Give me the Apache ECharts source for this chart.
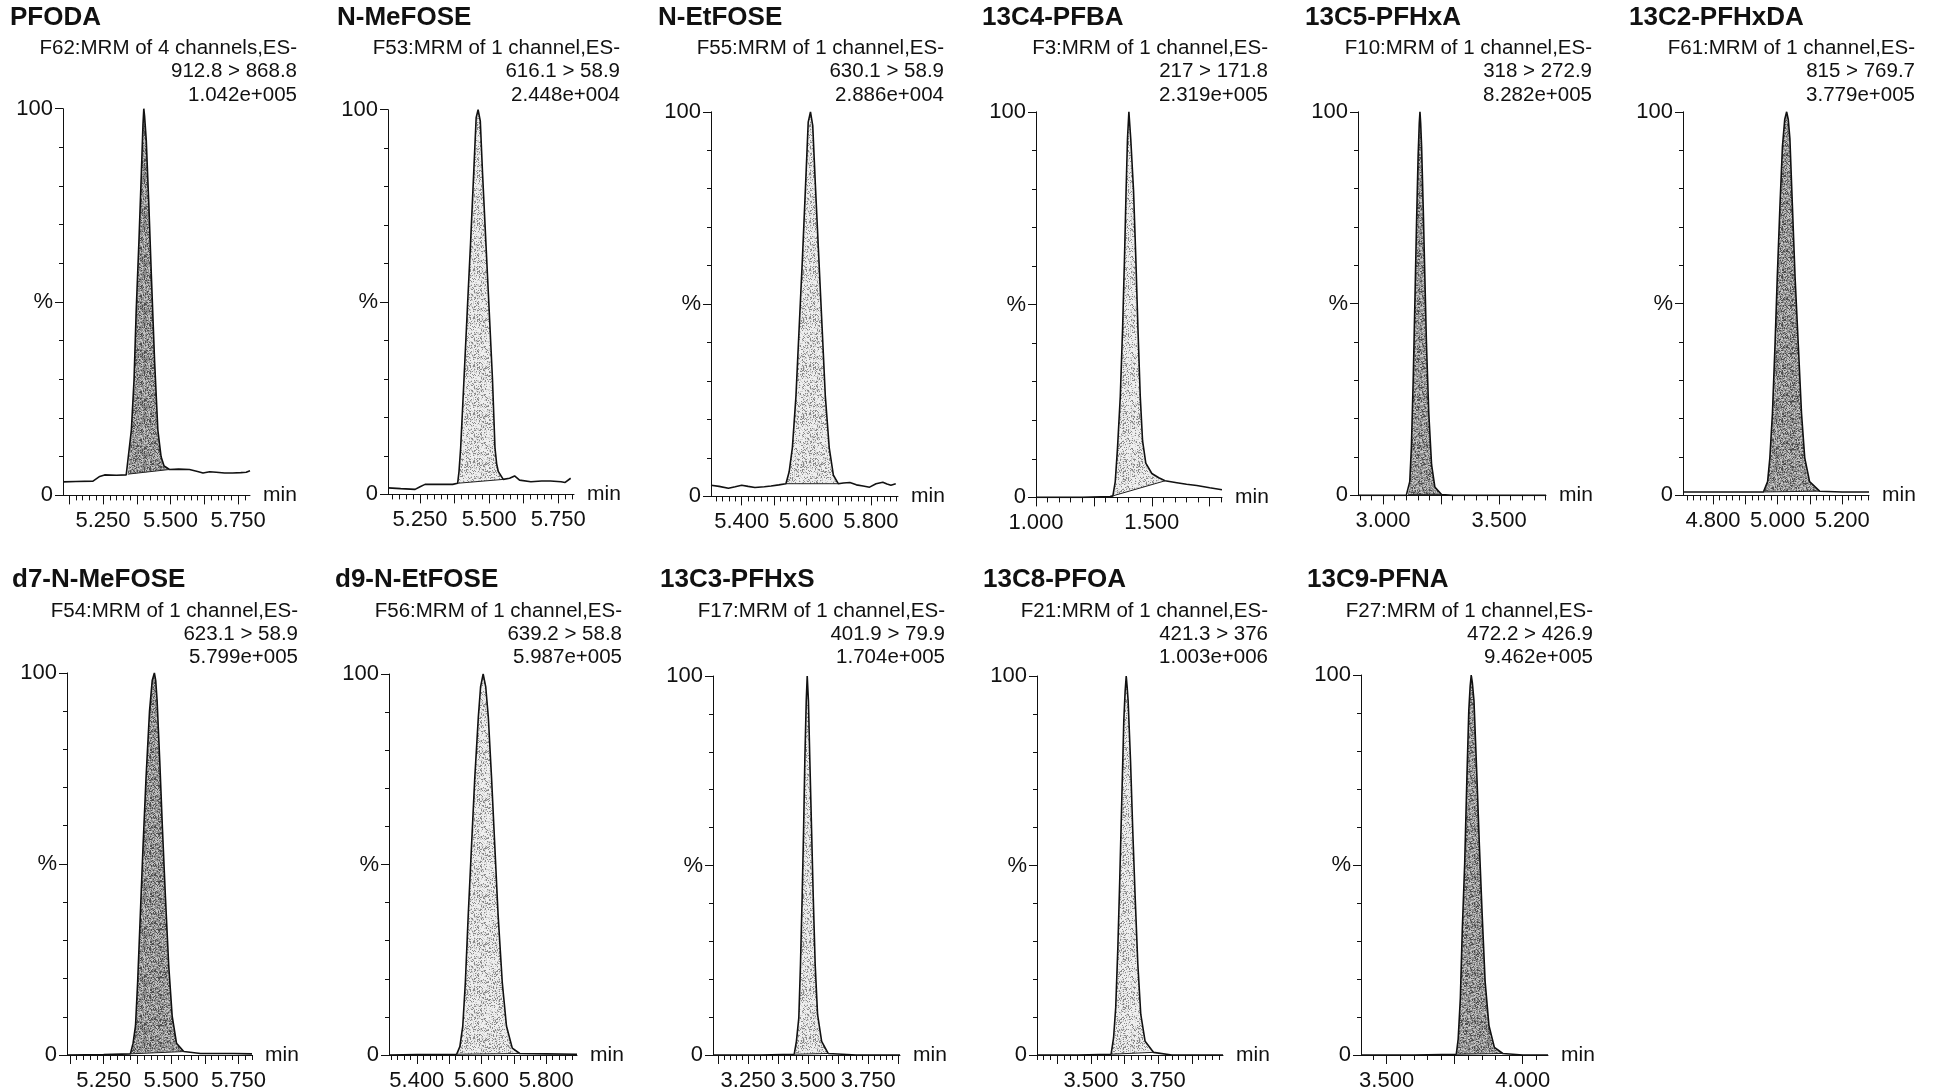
<!DOCTYPE html>
<html>
<head>
<meta charset="utf-8">
<script src="https://cdn.jsdelivr.net/npm/echarts@6/dist/echarts.min.js"></script>
<style>
html,body{margin:0;padding:0;background:#fff;}
#chart{width:1937px;height:1092px;}
</style>
</head>
<body>
<div id="chart"></div>
<script>
// ---------------- DATA ----------------
const compoundNames = ['PFODA','N-MeFOSE','N-EtFOSE','13C4-PFBA','13C5-PFHxA','13C2-PFHxDA',
  'd7-N-MeFOSE','d9-N-EtFOSE','13C3-PFHxS','13C8-PFOA','13C9-PFNA'];
const functionLines = ['F62:MRM of 4 channels,ES-','F53:MRM of 1 channel,ES-','F55:MRM of 1 channel,ES-',
  'F3:MRM of 1 channel,ES-','F10:MRM of 1 channel,ES-','F61:MRM of 1 channel,ES-',
  'F54:MRM of 1 channel,ES-','F56:MRM of 1 channel,ES-','F17:MRM of 1 channel,ES-',
  'F21:MRM of 1 channel,ES-','F27:MRM of 1 channel,ES-'];
const transitionLines = ['912.8 > 868.8','616.1 > 58.9','630.1 > 58.9','217 > 171.8','318 > 272.9','815 > 769.7',
  '623.1 > 58.9','639.2 > 58.8','401.9 > 79.9','421.3 > 376','472.2 > 426.9'];
const intensityLines = ['1.042e+005','2.448e+004','2.886e+004','2.319e+005','8.282e+005','3.779e+005',
  '5.799e+005','5.987e+005','1.704e+005','1.003e+006','9.462e+005'];

// x axis ranges (min)
const xMins = [5.102, 5.134, 5.305, 1.000, 2.892, 4.707, 5.114, 5.314, 3.104, 3.300, 3.406];
const xMaxs = [5.794, 5.807, 5.884, 1.803, 3.702, 5.283, 5.800, 5.895, 3.882, 3.990, 4.093];
// labelled ticks
const xTickLabels = [
  [5.25,5.5,5.75],[5.25,5.5,5.75],[5.4,5.6,5.8],[1.0,1.5],[3.0,3.5],[4.8,5.0,5.2],
  [5.25,5.5,5.75],[5.4,5.6,5.8],[3.25,3.5,3.75],[3.5,3.75],[3.5,4.0]
];
const xMajorStep = [0.125,0.125,0.1,0.25,0.25,0.1,0.125,0.1,0.125,0.125,0.25];
const xMinorStep = [0.025,0.025,0.02,0.05,0.05,0.02,0.025,0.02,0.025,0.025,0.05];
const yLabels = ['0','%','100'];

// chromatogram traces [time (min), relative intensity %]
const trace_PFODA = [[5.102,3.5],[5.150,3.6],[5.213,3.7],[5.238,4.9],[5.256,5.3],[5.300,5.2],[5.336,5.3],[5.342,5.5],[5.355,16.9],[5.365,30],[5.373,48],[5.383,65.7],[5.392,83.4],[5.398,96],[5.401,100],[5.404,98],[5.410,92],[5.420,74.5],[5.429,56.8],[5.441,34.6],[5.453,16.9],[5.465,10],[5.476,7.6],[5.496,6.7],[5.530,6.8],[5.570,6.7],[5.600,6.2],[5.620,5.8],[5.645,6.1],[5.669,6.0],[5.700,5.8],[5.730,5.8],[5.760,5.9],[5.780,6.0],[5.794,6.4]];
const trace_NMeFOSE = [[5.134,1.7],[5.180,1.5],[5.232,1.3],[5.250,2.0],[5.268,2.6],[5.320,2.6],[5.368,2.6],[5.386,2.9],[5.391,6],[5.397,12.2],[5.409,30],[5.421,48],[5.433,65.7],[5.445,85],[5.453,97.9],[5.460,100],[5.468,97],[5.476,83.6],[5.488,65.7],[5.500,48],[5.512,30],[5.521,12.2],[5.527,8],[5.533,6],[5.551,3.9],[5.574,4.2],[5.592,4.8],[5.610,3.7],[5.651,3.3],[5.690,3.5],[5.722,3.5],[5.760,3.3],[5.775,3.1],[5.795,4.2]];
const trace_NEtFOSE = [[5.305,2.9],[5.330,2.6],[5.359,2.1],[5.380,2.5],[5.400,2.9],[5.420,2.6],[5.441,2.3],[5.470,2.5],[5.491,2.7],[5.515,3.0],[5.537,3.3],[5.547,6.4],[5.557,12.7],[5.568,26],[5.578,43.9],[5.588,61.7],[5.598,81.3],[5.606,97.3],[5.613,100],[5.620,96.4],[5.628,81.3],[5.639,61.7],[5.649,43.9],[5.659,26],[5.671,12.7],[5.684,5.5],[5.699,3.3],[5.715,3.5],[5.735,3.6],[5.755,3.0],[5.776,2.7],[5.796,2.4],[5.816,3.3],[5.837,3.7],[5.850,3.2],[5.862,2.9],[5.877,3.3]];
const trace_13C4PFBA = [[1.000,0],[1.100,0],[1.200,0],[1.320,0.2],[1.332,0.4],[1.342,4],[1.352,12.9],[1.364,26.3],[1.374,44],[1.382,61.9],[1.389,79.7],[1.395,93],[1.401,100],[1.409,93],[1.421,79.7],[1.431,61.9],[1.440,44],[1.450,26.3],[1.460,14.7],[1.474,8.9],[1.500,6.2],[1.530,5.1],[1.557,4.3],[1.608,3.8],[1.650,3.4],[1.694,3.1],[1.750,2.5],[1.803,2.0]];
const trace_13C5PFHxA = [[2.892,0],[3.000,0],[3.100,0],[3.108,0.2],[3.115,3.6],[3.122,12.5],[3.130,30.4],[3.137,50],[3.144,70.5],[3.151,88.4],[3.156,97],[3.159,100],[3.162,97],[3.166,91],[3.173,75],[3.180,57],[3.187,39.3],[3.197,21.4],[3.209,8],[3.223,2.2],[3.252,0.2],[3.300,0],[3.500,0],[3.702,0]];
const trace_13C2PFHxDA = [[4.707,0.9],[4.800,0.9],[4.900,0.9],[4.956,0.9],[4.969,3.6],[4.976,9.8],[4.984,21.4],[4.992,39.3],[4.999,57],[5.007,75],[5.015,91],[5.022,98],[5.028,100],[5.033,98],[5.038,93],[5.046,75],[5.054,57],[5.064,39.3],[5.074,21.4],[5.084,9.8],[5.099,3.6],[5.130,1.1],[5.200,0.9],[5.283,0.9]];
const trace_d7NMeFOSE = [[5.114,0],[5.250,0.1],[5.349,0.3],[5.359,3.1],[5.368,7.6],[5.376,19.1],[5.386,36.9],[5.396,54.7],[5.407,72.4],[5.420,90],[5.430,98],[5.438,100],[5.443,98],[5.448,92.9],[5.458,76.9],[5.468,59.1],[5.479,41.3],[5.491,23.6],[5.504,10.2],[5.520,3.1],[5.547,0.9],[5.609,0.4],[5.733,0.4],[5.800,0.3]];
const trace_d9NEtFOSE = [[5.314,0],[5.400,0.1],[5.523,0.2],[5.533,2.2],[5.542,7.6],[5.550,19.1],[5.559,37],[5.569,54.8],[5.579,72.6],[5.590,88.6],[5.597,96.6],[5.605,100],[5.613,96.6],[5.621,88.6],[5.631,72.6],[5.641,54.8],[5.651,37],[5.664,19.1],[5.677,7.6],[5.695,1.8],[5.718,0.4],[5.800,0.3],[5.895,0.2]];
const trace_13C3PFHxS = [[3.104,0],[3.300,0],[3.442,0.2],[3.451,3.6],[3.461,9.8],[3.468,24],[3.475,41.9],[3.481,59.7],[3.486,77.5],[3.492,93.5],[3.496,100],[3.501,93.5],[3.507,77.5],[3.514,59.7],[3.521,41.9],[3.529,24],[3.539,10.7],[3.556,3.6],[3.583,0.4],[3.700,0],[3.882,0]];
const trace_13C8PFOA = [[3.300,0],[3.450,0],[3.575,0.2],[3.584,4.5],[3.592,12.5],[3.600,28.5],[3.607,46.3],[3.615,68.6],[3.622,88.2],[3.627,96],[3.631,100],[3.634,97.5],[3.638,93.5],[3.647,77.5],[3.655,59.7],[3.664,41.9],[3.674,24],[3.685,10.7],[3.701,3.6],[3.732,0.7],[3.800,0],[3.990,0]];
const trace_13C9PFNA = [[3.406,0],[3.600,0],[3.756,0.2],[3.763,4.2],[3.771,14.9],[3.778,32.7],[3.787,50.5],[3.795,72.8],[3.802,90.6],[3.807,97],[3.811,100],[3.815,98],[3.821,93.3],[3.832,72.8],[3.841,55],[3.851,37.2],[3.862,19.3],[3.876,7.8],[3.896,2],[3.927,0.4],[4.000,0],[4.093,0]];

// integration limits (start, end) in min
const peakLimits = [[5.342,5.496],[5.386,5.551],[5.537,5.699],[1.332,1.557],[3.108,3.252],[4.956,5.130],
  [5.349,5.547],[5.523,5.718],[3.442,3.583],[3.575,3.732],[3.756,3.927]];

const traces = [trace_PFODA, trace_NMeFOSE, trace_NEtFOSE, trace_13C4PFBA, trace_13C5PFHxA, trace_13C2PFHxDA,
  trace_d7NMeFOSE, trace_d9NEtFOSE, trace_13C3PFHxS, trace_13C8PFOA, trace_13C9PFNA];

// ---------------- LAYOUT / STYLE ----------------
// grid rectangles: [axisLeftX, axisRightX, y100, y0]
const gridBoxes = [
  [63,250,108.7,495.4],[388,574,109.7,494.4],[711,898,111.8,496.4],[1036,1222,111.8,497.4],[1358,1546,111.8,495.4],[1683,1869,111.8,495.4],
  [67,252,672.9,1062],[389,577,674,1062],[713,900,676,1064],[1037,1223,676,1064],[1361,1548,675,1063]
];
const titlePos = [[10,18],[337,18],[658,18],[982,18],[1305,18],[1629,18],[12,580],[335,580],[660,580],[983,580],[1307,580]];
const infoPos = [[297,48.5],[620,48.5],[944,48.5],[1268,48.5],[1592,48.5],[1915,48.5],[298,611],[622,611],[945,611],[1268,611],[1593,611]];
const darkFill = [true,false,false,false,true,true,true,false,false,false,true];

const FONT = '"Liberation Sans", Arial, Helvetica, sans-serif';
const INK = '#111';

function hash01(x, y, seed) {
  let h = Math.imul(x * 374761393 + y * 668265263 + seed * 2246822519, 1274126177);
  h ^= h >>> 13; h = Math.imul(h, 1103515245); h ^= h >>> 16;
  return (h >>> 0) / 4294967296;
}
function makePattern(base, dark, light, pDark, pLight, seed) {
  const c = document.createElement('canvas');
  c.width = 48; c.height = 48;
  const g = c.getContext('2d');
  g.fillStyle = base; g.fillRect(0, 0, 48, 48);
  for (let y = 0; y < 48; y++) for (let x = 0; x < 48; x++) {
    const h = hash01(x, y, seed);
    if (h < pDark) { g.fillStyle = dark; g.fillRect(x, y, 1, 1); }
    else if (h < pDark + pLight) { g.fillStyle = light; g.fillRect(x, y, 1, 1); }
  }
  return c;
}
const patDark = makePattern('#8c8c8c', '#4e4e4e', '#c2c2c2', 0.22, 0.28, 7);
const patLight = makePattern('#eeeeee', '#8a8a8a', '#cdcdcd', 0.18, 0.22, 3);

function stepValues(min, max, step) {
  const out = [];
  const k0 = Math.ceil(min / step - 1e-9);
  for (let k = k0; k * step <= max + 1e-9; k++) out.push(+(k * step).toFixed(4));
  return out;
}

const W = 1937, H = 1092;
const grids = [], xAxes = [], yAxes = [], series = [], graphics = [];

traces.forEach((tr, i) => {
  const [L, R, T, B] = gridBoxes[i];
  grids.push({ left: L, top: T, width: R - L, height: B - T, containLabel: false });
  const axisLine = { show: true, lineStyle: { color: INK, width: 1 } };
  xAxes.push({
    type: 'value', gridIndex: i, min: xMins[i], max: xMaxs[i], position: 'bottom',
    axisLine: axisLine,
    axisTick: { show: true, inside: false, length: 9, customValues: stepValues(xMins[i], xMaxs[i], xMajorStep[i]),
      lineStyle: { color: INK, width: 1 } },
    axisLabel: { show: true, customValues: xTickLabels[i], formatter: v => (+v).toFixed(3),
      fontSize: 22, color: INK, fontFamily: FONT, margin: 15 },
    splitLine: { show: false },
    name: 'min', nameLocation: 'end', nameGap: 13,
    nameTextStyle: { fontSize: 21, color: INK, fontFamily: FONT }
  });
  xAxes.push({
    type: 'value', gridIndex: i, min: xMins[i], max: xMaxs[i], position: 'bottom', offset: 0,
    axisLine: { show: false },
    axisTick: { show: true, inside: false, length: 5, customValues: stepValues(xMins[i], xMaxs[i], xMinorStep[i]),
      lineStyle: { color: INK, width: 1 } },
    axisLabel: { show: false },
    splitLine: { show: false }
  });
  yAxes.push({
    type: 'value', gridIndex: i, min: 0, max: 100, interval: 50,
    axisLine: axisLine,
    axisTick: { show: true, inside: false, length: 8, lineStyle: { color: INK, width: 1 } },
    minorTick: { show: true, splitNumber: 5, length: 4, lineStyle: { color: INK, width: 1 } },
    axisLabel: { formatter: v => yLabels[Math.round(v / 50)], fontSize: 22, color: INK, fontFamily: FONT, margin: 10 },
    splitLine: { show: false }, minorSplitLine: { show: false }
  });

  const [ps, pe] = peakLimits[i];
  const peakPts = tr.filter(p => p[0] >= ps - 1e-9 && p[0] <= pe + 1e-9);
  const pattern = { image: darkFill[i] ? patDark : patLight, repeat: 'repeat' };
  series.push({
    type: 'custom', xAxisIndex: 2 * i, yAxisIndex: i, silent: true, clip: true, z: 1,
    data: [[ps, 0]],
    renderItem: function (params, api) {
      const pts = peakPts.map(p => api.coord(p));
      return { type: 'polygon', shape: { points: pts }, style: { fill: pattern, stroke: null } };
    }
  });
  series.push({
    type: 'line', xAxisIndex: 2 * i, yAxisIndex: i, data: tr, symbol: 'none', showSymbol: false,
    lineStyle: { color: INK, width: 1.6 }, z: 3, silent: true
  });
  series.push({
    type: 'line', xAxisIndex: 2 * i, yAxisIndex: i, data: [peakPts[0], peakPts[peakPts.length - 1]],
    symbol: 'none', showSymbol: false, lineStyle: { color: '#222', width: 1 }, z: 3, silent: true
  });

  graphics.push({
    type: 'text', x: titlePos[i][0], y: titlePos[i][1],
    style: { text: compoundNames[i], font: 'bold 26px ' + FONT, fill: INK, align: 'left', verticalAlign: 'middle',
      textAlign: 'left', textVerticalAlign: 'middle' }
  });
  [functionLines[i], transitionLines[i], intensityLines[i]].forEach((s, k) => {
    graphics.push({
      type: 'text', x: infoPos[i][0], y: infoPos[i][1] + k * 23.2,
      style: { text: s, font: '20.5px ' + FONT, fill: INK, align: 'right', verticalAlign: 'middle',
        textAlign: 'right', textVerticalAlign: 'middle' }
    });
  });
});

const chart = echarts.init(document.getElementById('chart'), null, { renderer: 'canvas', width: W, height: H });
chart.setOption({
  backgroundColor: '#ffffff',
  animation: false,
  grid: grids,
  xAxis: xAxes,
  yAxis: yAxes,
  series: series,
  graphic: graphics
});
</script>
</body>
</html>
